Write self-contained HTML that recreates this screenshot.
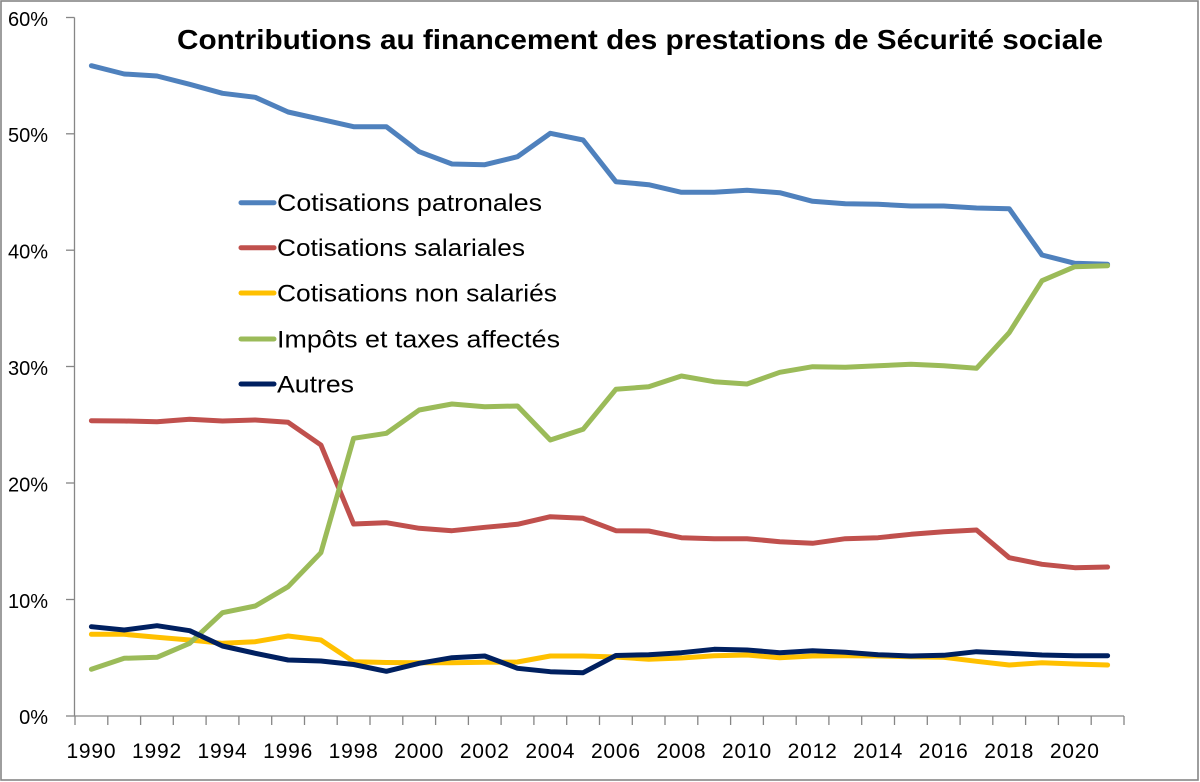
<!DOCTYPE html>
<html>
<head>
<meta charset="utf-8">
<style>
html,body{margin:0;padding:0;background:#fff;}
svg{display:block;}
text{font-family:"Liberation Sans",Arial,sans-serif;fill:#000;}
</style>
</head>
<body>
<svg width="1200" height="782" viewBox="0 0 1200 782" xmlns="http://www.w3.org/2000/svg">
<rect x="0" y="0" width="1200" height="782" fill="#fff"/>
<rect x="1" y="1" width="1197" height="779" fill="none" stroke="#868686" stroke-width="1.6"/>

<!-- title -->
<text x="177" y="49" font-size="28" font-weight="bold" textLength="926" lengthAdjust="spacingAndGlyphs">Contributions au financement des prestations de Sécurité sociale</text>

<!-- axes -->
<g stroke="#868686" stroke-width="1.3" fill="none">
<line x1="74.5" y1="17.5" x2="74.5" y2="716"/>
<line x1="74.5" y1="716" x2="1124" y2="716"/>
<line x1="66" y1="17.5" x2="74.5" y2="17.5"/>
<line x1="66" y1="133.8" x2="74.5" y2="133.8"/>
<line x1="66" y1="250.2" x2="74.5" y2="250.2"/>
<line x1="66" y1="366.5" x2="74.5" y2="366.5"/>
<line x1="66" y1="483" x2="74.5" y2="483"/>
<line x1="66" y1="599.5" x2="74.5" y2="599.5"/>
<line x1="66" y1="716" x2="74.5" y2="716"/>
<path d="M75,716v9 M107.8,716v9 M140.6,716v9 M173.3,716v9 M206.1,716v9 M238.9,716v9 M271.7,716v9 M304.5,716v9 M337.2,716v9 M370,716v9 M402.8,716v9 M435.6,716v9 M468.4,716v9 M501.1,716v9 M533.9,716v9 M566.7,716v9 M599.5,716v9 M632.3,716v9 M665,716v9 M697.8,716v9 M730.6,716v9 M763.4,716v9 M796.2,716v9 M828.9,716v9 M861.7,716v9 M894.5,716v9 M927.3,716v9 M960.1,716v9 M992.8,716v9 M1025.6,716v9 M1058.4,716v9 M1091.2,716v9 M1124,716v9"/>
</g>

<!-- y labels -->
<g font-size="20" text-anchor="end">
<text x="48" y="26">60%</text>
<text x="48" y="142">50%</text>
<text x="48" y="258.5">40%</text>
<text x="48" y="375">30%</text>
<text x="48" y="491.5">20%</text>
<text x="48" y="608">10%</text>
<text x="48" y="724">0%</text>
</g>

<!-- x labels -->
<g font-size="21" text-anchor="middle" letter-spacing="0.8">
<text x="91.4" y="758">1990</text>
<text x="157" y="758">1992</text>
<text x="222.5" y="758">1994</text>
<text x="288.1" y="758">1996</text>
<text x="353.6" y="758">1998</text>
<text x="419.2" y="758">2000</text>
<text x="484.8" y="758">2002</text>
<text x="550.3" y="758">2004</text>
<text x="615.9" y="758">2006</text>
<text x="681.4" y="758">2008</text>
<text x="747" y="758">2010</text>
<text x="812.6" y="758">2012</text>
<text x="878.1" y="758">2014</text>
<text x="943.7" y="758">2016</text>
<text x="1009.2" y="758">2018</text>
<text x="1074.8" y="758">2020</text>
</g>

<!-- series -->
<g fill="none" stroke-width="5" stroke-linejoin="round" stroke-linecap="round">
<polyline stroke="#4F81BD" points="91.4,65.7 124.2,74 157,76 189.7,84.3 222.5,93.3 255.3,97.3 288.1,112 320.9,119.3 353.6,126.7 386.4,126.7 419.2,151.7 452,164 484.8,164.7 517.5,156.7 550.3,133.3 583.1,140 615.9,181.7 648.7,184.7 681.4,192.3 714.2,192.3 747,190.3 779.8,192.7 812.6,201.3 845.3,203.7 878.1,204.3 910.9,206 943.7,206 976.5,208 1009.2,208.7 1042,255 1074.8,263.3 1107.6,264.3"/>
<polyline stroke="#C0504D" points="91.4,420.7 124.2,421 157,421.7 189.7,419.3 222.5,421 255.3,420 288.1,422.3 320.9,445 353.6,524 386.4,522.7 419.2,528.3 452,530.7 484.8,527.3 517.5,524.3 550.3,516.7 583.1,518.3 615.9,530.7 648.7,531 681.4,537.7 714.2,538.7 747,538.7 779.8,541.7 812.6,543.3 845.3,538.7 878.1,537.7 910.9,534.3 943.7,531.7 976.5,530 1009.2,557.7 1042,564.3 1074.8,567.7 1107.6,567"/>
<polyline stroke="#FFC000" points="91.4,634.3 124.2,634.3 157,637.3 189.7,640 222.5,643.3 255.3,641.7 288.1,636 320.9,640 353.6,661.7 386.4,662.5 419.2,662.7 452,662.7 484.8,662.3 517.5,662 550.3,656 583.1,656 615.9,657 648.7,659.3 681.4,658 714.2,655.7 747,655 779.8,657.7 812.6,656 845.3,655.7 878.1,656 910.9,656.7 943.7,657.3 976.5,661.3 1009.2,665 1042,662.7 1074.8,664 1107.6,665"/>
<polyline stroke="#9BBB59" points="91.4,669.3 124.2,658.3 157,657.3 189.7,643.3 222.5,612.7 255.3,606 288.1,586.7 320.9,552.7 353.6,438.3 386.4,433.3 419.2,410 452,404 484.8,406.7 517.5,406 550.3,440 583.1,429.3 615.9,389.3 648.7,386.7 681.4,376 714.2,381.7 747,384 779.8,372.3 812.6,366.7 845.3,367.3 878.1,365.7 910.9,364.3 943.7,365.7 976.5,368.3 1009.2,332.7 1042,280.7 1074.8,266.7 1107.6,265.7"/>
<polyline stroke="#002060" points="91.4,626.7 124.2,630 157,625.7 189.7,630.7 222.5,646 255.3,653.3 288.1,660 320.9,661 353.6,664.5 386.4,671.3 419.2,663.3 452,657.7 484.8,656 517.5,668.3 550.3,671.7 583.1,672.7 615.9,655.5 648.7,654.7 681.4,652.7 714.2,649.3 747,650 779.8,652.7 812.6,650.7 845.3,652.3 878.1,654.7 910.9,656 943.7,655.3 976.5,651.7 1009.2,653.3 1042,655 1074.8,655.7 1107.6,655.7"/>
</g>

<!-- legend -->
<g stroke-width="5" stroke-linecap="round">
<line x1="241" y1="202.7" x2="274" y2="202.7" stroke="#4F81BD"/>
<line x1="241" y1="247.7" x2="274" y2="247.7" stroke="#C0504D"/>
<line x1="241" y1="293" x2="274" y2="293" stroke="#FFC000"/>
<line x1="241" y1="339" x2="274" y2="339" stroke="#9BBB59"/>
<line x1="241" y1="384" x2="274" y2="384" stroke="#002060"/>
</g>
<g font-size="24">
<text x="277" y="211" textLength="265" lengthAdjust="spacingAndGlyphs">Cotisations patronales</text>
<text x="277" y="256" textLength="248" lengthAdjust="spacingAndGlyphs">Cotisations salariales</text>
<text x="277" y="301.5" textLength="280" lengthAdjust="spacingAndGlyphs">Cotisations non salariés</text>
<text x="277" y="347.5" textLength="283" lengthAdjust="spacingAndGlyphs">Impôts et taxes affectés</text>
<text x="277" y="392.5" textLength="77" lengthAdjust="spacingAndGlyphs">Autres</text>
</g>
</svg>
</body>
</html>
